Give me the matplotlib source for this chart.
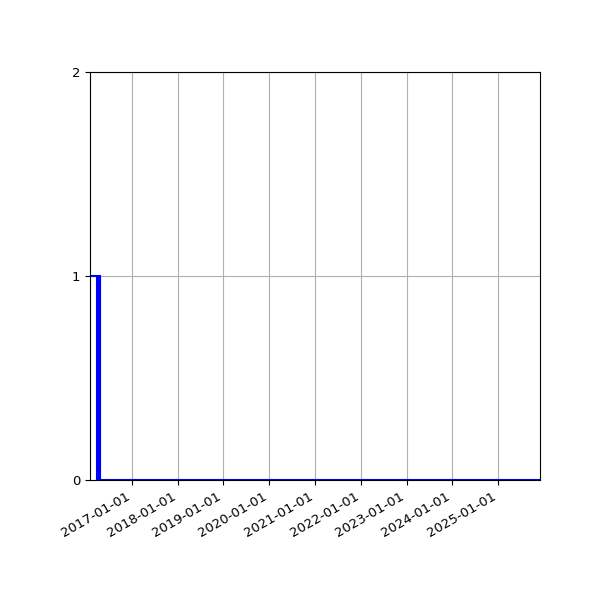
import matplotlib
matplotlib.use("Agg")
import matplotlib.pyplot as plt
import matplotlib.dates as mdates
import pandas as pd

dates = ["2016-02-01", "2016-03-30", "2016-04-05", "2016-04-11", "2016-04-17",
         "2016-04-22", "2025-12-01"]
values = [1, 0, 1, 0, 1, 0, 0]
y_ticks = [0, 1, 2]

x = pd.to_datetime(dates)

plt.rcParams["font.size"] = 9.5

fig = plt.figure(figsize=(6, 6), dpi=100)
ax = fig.add_subplot(111)
ax.step(x, values, where="post", color="blue", linewidth=1.5)
ax.set_xlim(x[0], x[-1])
ax.set_ylim(0, 2)
ax.set_yticks(y_ticks)
ax.xaxis.set_major_locator(mdates.YearLocator())
ax.xaxis.set_major_formatter(mdates.DateFormatter("%Y-%m-%d"))
ax.grid(True)
fig.autofmt_xdate()
fig.subplots_adjust(left=0.15, right=0.9, top=0.88, bottom=0.2)
fig.savefig("out.png", dpi=100)
